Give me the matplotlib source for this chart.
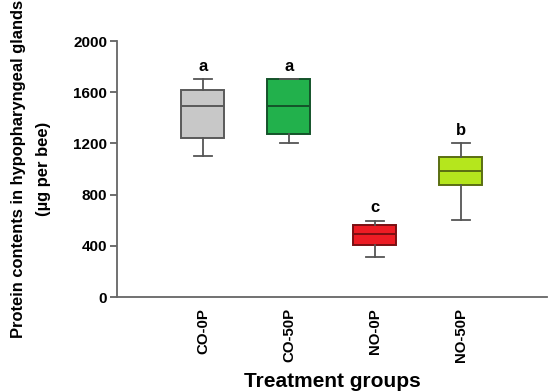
import matplotlib
matplotlib.use("Agg")
import matplotlib.pyplot as plt

categories = ["CO-0P", "CO-50P", "NO-0P", "NO-50P"]
whisker_low = [1100, 1200, 315, 600]
q1 = [1245, 1275, 410, 875]
median = [1495, 1495, 495, 982]
q3 = [1620, 1700, 560, 1092]
whisker_high = [1700, 1700, 595, 1200]
letters = ["a", "a", "c", "b"]
yticks = [0, 400, 800, 1200, 1600, 2000]

face_colors = ["#c8c8c8", "#22b14c", "#ed1c24", "#b5e61d"]
edge_colors = ["#5a5a5a", "#14532a", "#7a0f12", "#5a6e12"]

plt.rcParams["font.family"] = ["Liberation Sans", "DejaVu Sans"]
plt.rcParams["font.weight"] = "bold"

fig = plt.figure(figsize=(5.5, 3.92), dpi=100)
ax = fig.add_axes([0.2127, 0.2423, 0.7818, 0.6531])

stats = []
for i, c in enumerate(categories):
    stats.append(dict(label=c, whislo=whisker_low[i], q1=q1[i], med=median[i],
                      q3=q3[i], whishi=whisker_high[i], fliers=[]))

pos = list(range(1, len(categories) + 1))
bp = ax.bxp(stats, positions=pos, widths=0.5, patch_artist=True,
            showfliers=False, capwidths=0.2)
for i, box in enumerate(bp["boxes"]):
    box.set_facecolor(face_colors[i])
    box.set_edgecolor(edge_colors[i])
    box.set_linewidth(1.4)
for i, m in enumerate(bp["medians"]):
    m.set_color(edge_colors[i])
    m.set_linewidth(1.4)
for w in bp["whiskers"]:
    w.set_color("#555555")
    w.set_linewidth(1.3)
for cp in bp["caps"]:
    cp.set_color("#555555")
    cp.set_linewidth(1.3)

for i, l in enumerate(letters):
    ax.annotate(l, (pos[i], whisker_high[i]), xytext=(0, 4),
                textcoords="offset points", ha="center", va="bottom",
                fontsize=12, fontweight="bold")

ax.set_xlim(0, 5)
ax.set_ylim(0, 2000)
ax.set_yticks(yticks)
ax.set_yticklabels([str(v) for v in yticks], fontsize=11, fontweight="bold")
ax.set_xticks(pos)
ax.set_xticklabels(categories, rotation=90, fontsize=10.8, fontweight="bold")
ax.tick_params(axis="x", length=0, pad=8)
ax.tick_params(axis="y", length=5, width=1.2, color="#555555", pad=2)

for s in ["top", "right"]:
    ax.spines[s].set_visible(False)
for s in ["left", "bottom"]:
    ax.spines[s].set_color("#666666")
    ax.spines[s].set_linewidth(1.3)

ax.set_xlabel("Treatment groups", fontsize=15, fontweight="bold", va="baseline")
ax.xaxis.set_label_coords(0.5, -0.3516)
ax.set_ylabel("Protein contents in hypopharyngeal glands\n(µg per bee)",
              fontsize=11.9, fontweight="bold", labelpad=16, linespacing=1.8)

fig.savefig("out.png", dpi=100)
